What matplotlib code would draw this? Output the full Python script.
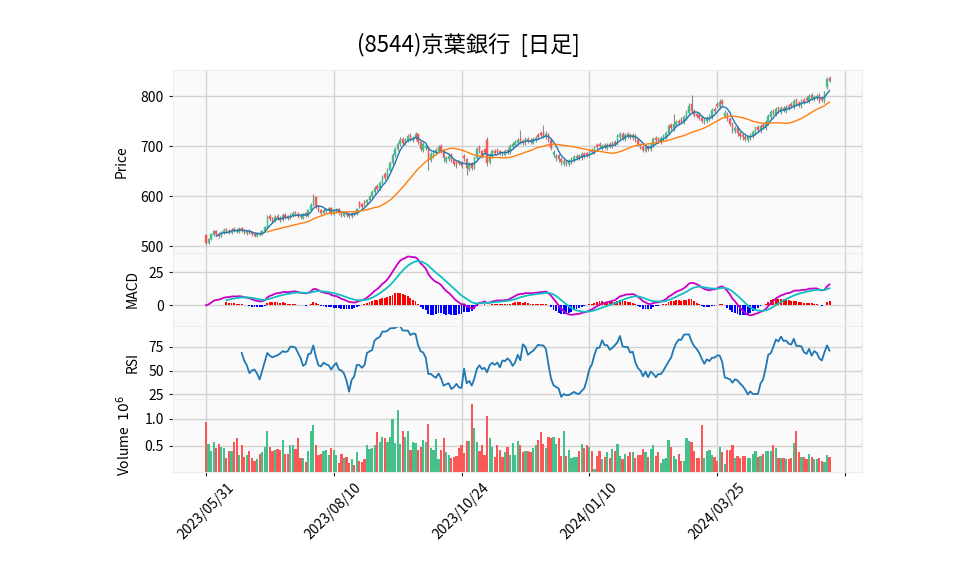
import numpy as np
import pandas as pd
import matplotlib
matplotlib.use("Agg")
import matplotlib.pyplot as plt

plt.rcParams['font.family'] = ['Noto Sans CJK JP', 'DejaVu Sans']

title = "(8544)京葉銀行  [日足]"
tick_dates = ["2023/05/31", "2023/08/10", "2023/10/24", "2024/01/10", "2024/03/25", ""]
tick_index = [0, 50, 100, 150, 200, 250]

opens = [522,506,514,523,530,525,520,527,534,531,
         527,535,533,529,536,531,526,531,528,525,
         520,527,524,530,538,560,556,550,560,557,
         552,563,560,556,561,568,565,561,557,566,
         561,572,582,598,580,572,566,570,572,576,
         565,569,574,567,561,567,563,560,567,564,
         588,584,590,586,592,600,608,620,616,627,
         644,638,653,666,682,694,704,714,706,713,
         722,712,717,724,708,692,696,698,672,680,
         686,690,700,692,670,674,684,672,668,670,
         668,680,674,654,666,658,676,698,690,694,
         712,668,680,690,692,690,688,683,693,688,
         699,703,707,716,710,706,715,712,707,712,
         722,726,728,718,724,712,683,676,682,675,
         665,670,664,669,673,677,681,676,685,686,
         681,692,688,702,704,696,702,697,704,700,
         708,705,719,724,715,724,722,716,722,713,
         704,699,691,699,694,702,716,714,709,715,
         719,726,742,735,743,751,754,749,757,766,
         784,771,765,762,757,748,751,755,759,775,
         784,779,790,760,765,755,745,730,737,727,
         722,719,712,717,721,727,738,731,742,737,
         747,759,771,765,776,769,777,771,780,784,
         779,792,787,781,793,796,791,802,794,796,
         802,796,791,818,836]
highs = [525,517,527,533,532,528,531,536,537,534,
         536,538,536,538,539,534,533,534,531,528,
         528,530,533,541,562,564,559,562,564,560,
         566,566,563,566,570,571,568,564,567,569,
         575,586,604,600,583,575,575,577,579,578,
         573,577,576,570,569,569,566,569,570,577,
         591,587,593,595,603,612,620,624,630,642,
         648,656,670,686,699,709,718,719,717,725,
         726,721,729,727,711,708,704,700,688,692,
         696,702,704,694,680,684,686,675,670,673,
         670,684,676,668,669,680,698,702,693,697,
         718,686,694,694,696,693,691,694,696,704,
         708,712,716,732,714,718,719,716,718,720,
         726,730,742,730,727,715,693,685,685,678,
         674,673,674,678,682,684,684,688,688,689,
         694,696,700,706,708,704,706,706,708,710,
         712,724,729,728,727,728,726,727,725,716,
         707,702,702,702,706,718,720,718,720,724,
         731,745,746,765,753,755,758,762,773,786,
         802,775,769,766,760,756,760,764,777,779,
         788,794,794,772,768,758,748,741,740,730,
         726,722,722,727,733,741,742,745,746,753,
         765,773,775,779,780,781,781,783,784,788,
         795,796,791,795,797,800,805,806,802,805,
         806,800,811,838,840]
lows = [503,504,512,520,521,517,518,525,527,525,
        525,529,527,527,528,524,523,524,521,518,
        518,521,522,528,536,551,547,548,552,549,
        550,555,553,554,558,561,557,555,555,559,
        559,570,580,577,569,563,564,567,569,563,
        562,566,563,559,558,559,557,557,561,562,
        577,575,581,583,589,597,605,610,613,624,
        632,635,650,663,679,691,700,702,703,709,
        710,709,713,705,690,688,692,652,668,676,
        682,686,686,668,666,670,668,660,657,662,
        656,670,642,650,652,655,673,686,676,684,
        660,664,676,682,684,682,680,680,684,685,
        695,699,703,704,702,703,706,704,704,708,
        714,718,716,714,708,692,679,671,669,663,
        661,660,661,665,669,673,672,673,676,678,
        678,684,685,694,696,692,694,693,696,697,
        700,702,715,712,711,716,714,712,708,700,
        694,688,688,690,691,699,708,706,705,711,
        715,722,732,731,739,742,746,745,753,762,
        766,758,756,752,746,744,747,751,755,766,
        776,775,780,756,750,740,727,726,721,715,
        713,710,708,712,717,722,728,727,734,733,
        743,755,762,761,766,765,768,767,772,776,
        775,780,778,777,784,788,787,792,790,792,
        786,788,787,815,828]
closes = [506,514,524,530,524,520,528,532,530,528,
          533,532,530,535,531,527,530,527,524,521,
          525,524,530,538,558,554,550,558,555,553,
          562,558,556,562,566,564,560,558,564,562,
          572,582,596,580,572,566,572,574,576,566,
          570,574,566,562,566,562,560,566,564,574,
          580,578,584,592,600,608,616,614,626,638,
          636,652,666,682,694,704,712,706,712,720,
          714,716,724,708,694,704,700,672,684,688,
          692,698,690,676,676,680,672,664,662,666,
          660,676,656,664,656,676,694,690,680,688,
          666,682,690,686,688,686,684,690,688,700,
          704,708,712,708,706,714,710,708,714,716,
          718,722,720,724,712,696,688,680,674,668,
          670,664,670,674,678,680,676,684,680,682,
          690,688,696,698,700,700,698,702,700,706,
          704,720,724,716,722,720,718,722,712,704,
          698,692,698,694,702,714,712,710,716,720,
          726,740,736,744,748,746,750,758,768,780,
          770,762,760,756,750,752,756,760,772,770,
          780,788,784,766,754,744,732,736,726,720,
          718,714,718,722,728,736,732,740,738,748,
          760,768,766,774,770,776,772,778,776,780,
          790,784,782,790,788,792,800,796,798,800,
          790,792,806,835,831]
volumes_m = [0.95,0.54,0.41,0.58,0.47,0.54,0.49,0.47,0.28,0.40,
             0.41,0.58,0.64,0.34,0.51,0.30,0.34,0.40,0.28,0.23,
             0.25,0.36,0.38,0.49,0.77,0.49,0.40,0.43,0.45,0.43,
             0.62,0.36,0.36,0.51,0.52,0.45,0.64,0.28,0.27,0.21,
             0.41,0.78,0.88,0.51,0.34,0.36,0.41,0.43,0.34,0.47,
             0.43,0.34,0.19,0.36,0.28,0.30,0.19,0.25,0.14,0.38,
             0.23,0.21,0.25,0.51,0.45,0.47,0.51,0.75,0.58,0.67,
             0.65,0.58,0.67,1.00,0.56,1.16,0.54,0.77,0.67,0.78,
             0.43,0.58,0.56,0.43,0.49,0.62,0.58,0.91,0.47,0.43,
             0.63,0.25,0.43,0.64,0.38,0.33,0.27,0.30,0.31,0.47,
             0.51,0.37,0.60,0.60,1.27,0.84,0.58,0.41,0.52,0.34,
             1.06,0.64,0.49,0.30,0.51,0.43,0.30,0.38,0.49,0.34,
             0.56,0.34,0.60,0.51,0.38,0.40,0.41,0.38,0.47,0.51,
             0.62,0.75,0.54,0.47,0.67,0.64,0.67,0.54,0.65,0.32,
             0.77,0.32,0.43,0.28,0.30,0.30,0.40,0.54,0.47,0.51,
             0.49,0.41,0.08,0.32,0.40,0.25,0.30,0.38,0.28,0.45,
             0.41,0.54,0.32,0.25,0.36,0.32,0.38,0.38,0.28,0.34,
             0.34,0.45,0.38,0.30,0.45,0.52,0.32,0.38,0.19,0.25,
             0.28,0.62,0.49,0.32,0.25,0.36,0.23,0.23,0.65,0.60,
             0.58,0.40,0.27,0.28,0.88,0.28,0.41,0.43,0.34,0.30,
             0.23,0.49,0.38,0.17,0.43,0.43,0.51,0.27,0.32,0.28,
             0.32,0.32,0.27,0.28,0.36,0.40,0.30,0.32,0.36,0.41,
             0.40,0.40,0.52,0.47,0.28,0.27,0.28,0.25,0.25,0.27,
             0.56,0.78,0.38,0.30,0.30,0.25,0.36,0.30,0.25,0.25,
             0.28,0.23,0.21,0.34,0.30]

# ---- derived indicators ----
o = np.array(opens, float); h = np.array(highs, float)
l = np.array(lows, float); c = np.array(closes, float)
v = np.array(volumes_m, float)
n = len(c)
x = np.arange(n)
cs = pd.Series(c)
ma5 = cs.rolling(5).mean()
ma25 = cs.rolling(25).mean()
ema12 = cs.ewm(span=12, adjust=False).mean()
ema26 = cs.ewm(span=26, adjust=False).mean()
macd = ema12 - ema26
signal = macd.ewm(span=9, adjust=False, min_periods=9).mean()
hist = macd - signal
delta = cs.diff()
gain = delta.clip(lower=0).rolling(14).mean()
loss = (-delta.clip(upper=0)).rolling(14).mean()
rsi = 100 - 100 / (1 + gain / loss)

UP = '#45c08a'
DOWN = '#fb5757'
up = c >= o
cols = np.where(up, UP, DOWN)

# ---- layout ----
W_PX, H_PX = 958, 575
fig = plt.figure(figsize=(W_PX / 100, H_PX / 100), dpi=100)
left_px, right_px = 173, 862
top_px, bot_px = 70, 472
unit = (bot_px - top_px) / 11.0

def make_ax(y0, hh):
    return fig.add_axes([left_px / W_PX, 1 - (y0 + hh) / H_PX,
                         (right_px - left_px) / W_PX, hh / H_PX])

ax_p = make_ax(top_px, 5 * unit)
ax_m = make_ax(top_px + 5 * unit, 2 * unit)
ax_r = make_ax(top_px + 7 * unit, 2 * unit)
ax_v = make_ax(top_px + 9 * unit, 2 * unit)
axes = [ax_p, ax_m, ax_r, ax_v]

for ax in axes:
    ax.set_facecolor('#fafafa')
    ax.grid(True, color='#d2d2d2', linewidth=1.0)
    ax.set_axisbelow(True)
    for s in ax.spines.values():
        s.set_color('#ececec')
    ax.set_xlim(-12.9, 256.7)
    ax.set_xticks(tick_index)
    ax.tick_params(axis='y', labelsize=10, length=3, color='#222222')
for ax in axes[:-1]:
    ax.tick_params(axis='x', length=0, labelbottom=False)
ax_v.set_xticklabels(tick_dates, rotation=45, ha='center', fontsize=10)
ax_v.tick_params(axis='x', length=3, color='#222222')

# price panel
ax_p.vlines(x, l, h, color='#8a8a8a', linewidth=0.8, zorder=2)
ax_p.bar(x, np.abs(c - o), bottom=np.minimum(o, c), width=0.6,
         color=cols, edgecolor=cols, linewidth=0.3, zorder=3)
ax_p.plot(x, ma5, color='#1f77b4', linewidth=1.0, zorder=4)
ax_p.plot(x, ma25, color='#ff7f0e', linewidth=1.0, zorder=4)
ax_p.set_ylim(486.6, 852)
ax_p.set_yticks([500, 600, 700, 800])
ax_p.set_ylabel('Price', fontsize=10)
ax_p.yaxis.set_label_coords(-0.064, 0.5)

# MACD panel
hcols = np.where(hist >= 0, 'red', 'blue')
ax_m.bar(x, hist.fillna(0), width=0.75, color=hcols, zorder=2)
ax_m.plot(x, macd, color='#c800c8', linewidth=1.3, zorder=3)
ax_m.plot(x, signal, color='#10c0c0', linewidth=1.3, zorder=3)
ax_m.set_ylim(-15.5, 39.6)
ax_m.set_yticks([0, 25])
ax_m.set_ylabel('MACD', fontsize=10)
ax_m.yaxis.set_label_coords(-0.049, 0.5)

# RSI panel
ax_r.plot(x, rsi, color='#1f77b4', linewidth=1.3)
ax_r.set_ylim(19.8, 97.5)
ax_r.set_yticks([25, 50, 75])
ax_r.set_ylabel('RSI', fontsize=10)
ax_r.yaxis.set_label_coords(-0.049, 0.5)

# volume panel
ax_v.bar(x, v, width=0.85, color=cols, zorder=2)
ax_v.set_ylim(0.0185, 1.372)
ax_v.set_yticks([0.5, 1.0])
ax_v.set_yticklabels(['0.5', '1.0'])
ax_v.set_ylabel('Volume  $10^{6}$', fontsize=10)
ax_v.yaxis.set_label_coords(-0.058, 0.5)

fig.text(0.489, 1 - 45 / H_PX, title, ha='center', va='center', fontsize=16)

fig.savefig('out.png', dpi=100)
